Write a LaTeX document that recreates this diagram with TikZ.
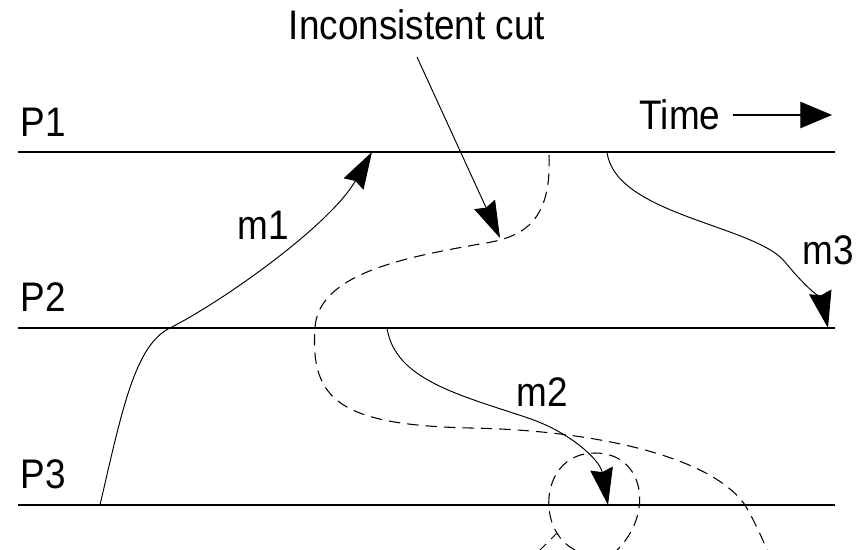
\documentclass[tikz,border=0pt]{standalone}
\usepackage{fontspec}
\setmainfont{Liberation Sans}
\usetikzlibrary{arrows.meta}

\begin{document}
\begin{tikzpicture}[x=0.02cm, y=-0.02cm,
    lbl/.style={font=\fontsize{21}{21}\selectfont, inner sep=0pt, yscale=1.12},
    procline/.style={line width=0.9pt},
    msg/.style={line width=0.55pt, -{Stealth[length=21pt, width=13pt, inset=2pt]}},
    cutline/.style={line width=0.6pt, dash pattern=on 6.5pt off 4pt}]
    \useasboundingbox (0,0) rectangle (867,550);

    % process lines
    \node[lbl] at (43,122) (p1) {P1};
    \node[lbl] at (43,297) (p2) {P2};
    \node[lbl] at (43,474) (p3) {P3};
    \coordinate (p1a) at (18,152); \coordinate (p1b) at (835,152);
    \coordinate (p2a) at (18,328); \coordinate (p2b) at (835,328);
    \coordinate (p3a) at (18,505); \coordinate (p3b) at (835,505);
    \draw[procline] (p1a) -- (p1b);
    \draw[procline] (p2a) -- (p2b);
    \draw[procline] (p3a) -- (p3b);

    % time
    \node[lbl] at (680,115) (time) {Time};
    \coordinate (timeend) at (832,115);
    \draw[line width=0.6pt, -{Triangle[length=18pt, width=15pt]}, shorten <=7pt] (time) -- (timeend);

    % messages
    \coordinate (m1a) at (100,505); \coordinate (m1v) at (170,328); \coordinate (m1b) at (372,152);
    \draw[msg] (m1a) .. controls (122,410) and (135,345) .. (m1v)
        .. controls (225,300) and (330,225) .. (m1b);
    \node[lbl] at (263,225) (m1) {m1};

    \coordinate (m2a) at (387,328); \coordinate (m2v) at (528,418); \coordinate (m2b) at (608,505);
    \draw[msg] (m2a) .. controls (395,380) and (460,395) .. (m2v)
        .. controls (570,432) and (600,460) .. (m2b);
    \node[lbl] at (542,392) (m2) {m2};

    \coordinate (m3a) at (607,152); \coordinate (m3v) at (785,262); \coordinate (m3b) at (828,328);
    \draw[msg] (m3a) .. controls (615,215) and (755,225) .. (m3v)
        .. controls (808,290) and (822,300) .. (m3b);
    \node[lbl] at (828,250) (m3) {m3};

    % the cut
    \node[lbl] at (417,25) (cut) {Inconsistent cut};
    \coordinate (cutfrom) at (417,57); \coordinate (cuttip) at (500,238);
    \draw[msg] (cutfrom) -- (cuttip);
    \draw[cutline] (549,155) .. controls (552,225) and (520,238) .. (480,244)
        .. controls (400,258) and (318,275) .. (315,328)
        .. controls (310,400) and (340,425) .. (470,428)
        .. controls (590,430) and (710,455) .. (745,505)
        .. controls (755,522) and (762,538) .. (768,552);
    \draw[cutline] (538,552) -- (557,533);
    \draw[cutline] (575,550) .. controls (535,530) and (540,453) .. (595,453)
        .. controls (645,453) and (655,515) .. (615,552);
\end{tikzpicture}
\end{document}
